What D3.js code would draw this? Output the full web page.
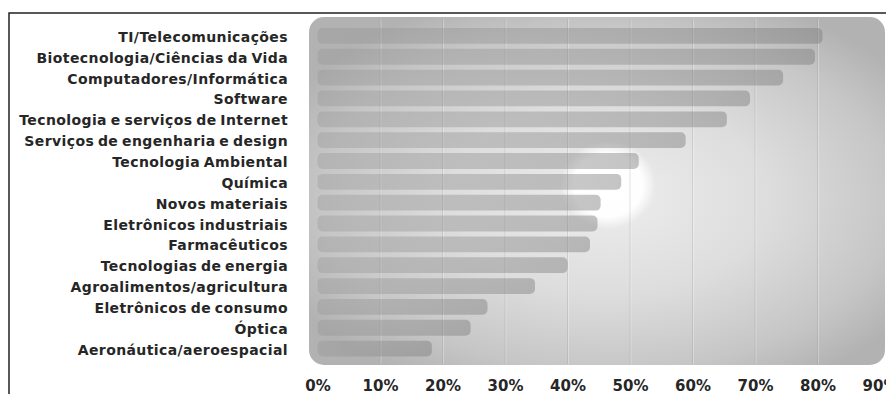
<!DOCTYPE html>
<html>
<head>
<meta charset="utf-8">
<script src="https://cdn.jsdelivr.net/npm/d3@7"></script>
<style>
  body { margin: 0; background: #fff; }
  svg { display: block; }
  text { font-family: "DejaVu Sans", Verdana, sans-serif; font-weight: bold; fill: #262626; }
</style>
</head>
<body>
<div id="chart"></div>
<script>
const categories = [
  "TI/Telecomunicações",
  "Biotecnologia/Ciências da Vida",
  "Computadores/Informática",
  "Software",
  "Tecnologia e serviços de Internet",
  "Serviços de engenharia e design",
  "Tecnologia Ambiental",
  "Química",
  "Novos materiais",
  "Eletrônicos industriais",
  "Farmacêuticos",
  "Tecnologias de energia",
  "Agroalimentos/agricultura",
  "Eletrônicos de consumo",
  "Óptica",
  "Aeronáutica/aeroespacial"
];
const values = [80.8, 79.6, 74.5, 69.2, 65.5, 58.9, 51.4, 48.6, 45.3, 44.8, 43.6, 40.0, 34.8, 27.2, 24.5, 18.3];
const tickValues = [0, 10, 20, 30, 40, 50, 60, 70, 80, 90];

const width = 886, height = 394;

const svg = d3.select("#chart").append("svg")
    .attr("width", width)
    .attr("height", height);

const defs = svg.append("defs");

// panel background
const bg = defs.append("radialGradient")
    .attr("id", "panelGrad")
    .attr("cx", "0.52").attr("cy", "0.52").attr("r", "0.62");
bg.append("stop").attr("offset", "0").attr("stop-color", "#ededed");
bg.append("stop").attr("offset", "0.45").attr("stop-color", "#dddddd");
bg.append("stop").attr("offset", "0.8").attr("stop-color", "#c6c6c6");
bg.append("stop").attr("offset", "1").attr("stop-color", "#b2b2b2");

// white spot in the middle
const glow = defs.append("radialGradient")
    .attr("id", "glowGrad");
glow.append("stop").attr("offset", "0").attr("stop-color", "#fff").attr("stop-opacity", 1);
glow.append("stop").attr("offset", "0.72").attr("stop-color", "#fff").attr("stop-opacity", 0.95);
glow.append("stop").attr("offset", "1").attr("stop-color", "#fff").attr("stop-opacity", 0);

// bars get a bit darker towards the end
const barGrad = defs.append("linearGradient")
    .attr("id", "barGrad")
    .attr("x1", "0").attr("x2", "1");
barGrad.append("stop").attr("offset", "0").attr("stop-color", "#8e8e8e").attr("stop-opacity", 0.3);
barGrad.append("stop").attr("offset", "1").attr("stop-color", "#7c7c7c").attr("stop-opacity", 0.45);

// frame lines (top and left)
svg.append("path")
    .attr("d", "M9,394V13H886")
    .attr("fill", "none")
    .attr("stroke", "#222")
    .attr("stroke-width", 1.5);

const x = d3.scaleLinear().domain([0, 90]).range([317.5, 880]);
const y = d3.scaleBand()
    .domain(categories)
    .range([25.5, 359])
    .paddingInner(0.24)
    .paddingOuter(0.12);

// panel
svg.append("rect")
    .attr("x", 309).attr("y", 17)
    .attr("width", 576).attr("height", 348)
    .attr("rx", 15).attr("ry", 15)
    .attr("fill", "url(#panelGrad)");

svg.append("ellipse")
    .attr("cx", 608).attr("cy", 185)
    .attr("rx", 48).attr("ry", 44)
    .attr("fill", "url(#glowGrad)");

// vertical grid lines
const grid = svg.append("g");
grid.selectAll("line.dark")
  .data(tickValues.slice(1, 9))
  .join("line")
    .attr("class", "dark")
    .attr("x1", d => x(d)).attr("x2", d => x(d))
    .attr("y1", 19).attr("y2", 364)
    .attr("stroke", "#999")
    .attr("stroke-opacity", 0.3);
grid.selectAll("line.light")
  .data(tickValues.slice(1, 9))
  .join("line")
    .attr("class", "light")
    .attr("x1", d => x(d) + 1).attr("x2", d => x(d) + 1)
    .attr("y1", 19).attr("y2", 364)
    .attr("stroke", "#fff")
    .attr("stroke-opacity", 0.3);

// bars
svg.append("g")
  .selectAll("rect")
  .data(values)
  .join("rect")
    .attr("x", x(0))
    .attr("y", (d, i) => y(categories[i]))
    .attr("width", d => x(d) - x(0))
    .attr("height", y.bandwidth())
    .attr("rx", 5).attr("ry", 5)
    .attr("fill", "url(#barGrad)");

// category labels
const yAxis = svg.append("g")
    .attr("transform", "translate(298,1.5)")
    .call(d3.axisLeft(y).tickSize(0).tickPadding(10));
yAxis.select(".domain").remove();
yAxis.selectAll("text")
    .style("font-size", "14px")
    .style("letter-spacing", "0.4px")
    .style("word-spacing", "-1.5px")
    .attr("fill", "#262626");

// percentage labels
const xAxis = svg.append("g")
    .attr("transform", "translate(0,370)")
    .call(d3.axisBottom(x).tickValues(tickValues).tickSize(0).tickPadding(10).tickFormat(d => d + "%"));
xAxis.select(".domain").remove();
xAxis.selectAll("text")
    .style("font-size", "15px")
    .attr("fill", "#262626");
</script>
</body>
</html>
